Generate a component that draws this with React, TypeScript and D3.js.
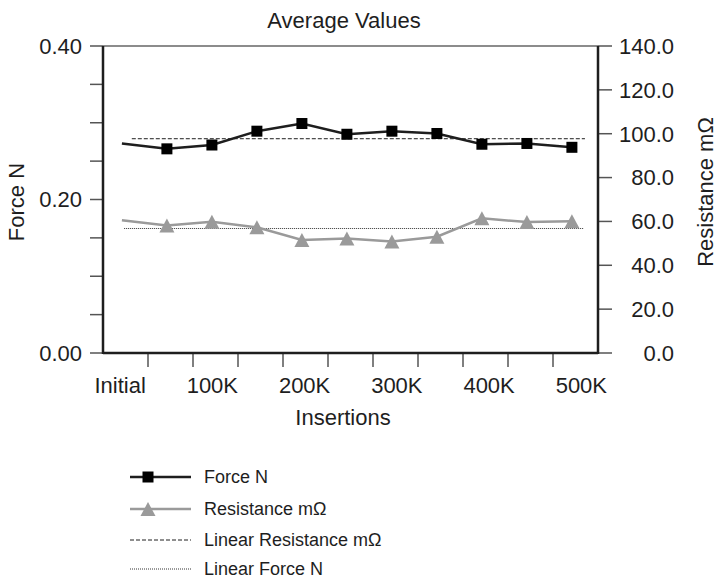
import React, { useEffect } from "react";
import * as d3 from "d3";

const categories = ["Initial", "50K", "100K", "150K", "200K", "250K", "300K", "350K", "400K", "450K", "500K"];
const tickLabels = ["Initial", "100K", "200K", "300K", "400K", "500K"];
const forceN = [0.273, 0.266, 0.271, 0.289, 0.299, 0.285, 0.289, 0.286, 0.272, 0.273, 0.268];
const resistanceMOhm = [60.5, 58.1, 59.9, 57.3, 51.5, 52.2, 50.9, 53.0, 61.4, 59.7, 60.1];
const leftTicks = [0, 0.05, 0.1, 0.15, 0.2, 0.25, 0.3, 0.35, 0.4];
const leftLabelTicks = [0, 0.2, 0.4];
const rightTicks = [0, 20, 40, 60, 80, 100, 120, 140];
const legendItems = ["Force N", "Resistance m\u03A9", "Linear Resistance m\u03A9", "Linear Force N"];

const W = 718;
const H = 580;
const L = 103, R = 598, T = 46, B = 353;
const FONT = "'Liberation Sans', Arial, Helvetica, sans-serif";
const DARK = "#1e1e1e";
const GRAY = "#9a9a9a";
const TICK = "#555";
const POINT_OFFSET = 0.42;

export default function App() {
  useEffect(() => {
    document.body.style.margin = "0";
  }, []);

  const x = d3.scaleLinear().domain([0, categories.length]).range([L, R]);
  const yL = d3.scaleLinear().domain([0, 0.4]).range([B, T]);
  const yR = d3.scaleLinear().domain([0, 140]).range([B, T]);
  const px = (i: number) => x(i + POINT_OFFSET);

  const forceLine = d3.line<number>().x((_, i) => px(i)).y((d) => yL(d));
  const resLine = d3.line<number>().x((_, i) => px(i)).y((d) => yR(d));

  const forceMean = d3.mean(forceN) as number;
  const resMean = d3.mean(resistanceMOhm) as number;

  const tri = (cx: number, cy: number, w = 15, h = 14) =>
    `M${cx},${cy - h / 2}L${cx + w / 2},${cy + h / 2}L${cx - w / 2},${cy + h / 2}Z`;
  const sq = 11;

  const legendY = [477, 509, 540, 569];
  const lgX0 = 130, lgX1 = 191, lgM = 148, lgText = 204;

  return (
    <svg width={W} height={H} style={{ display: "block", background: "#fff" }} fontFamily={FONT}>
      {/* title */}
      <text x={344} y={28} textAnchor="middle" fontSize={22} fill={DARK}>Average Values</text>

      {/* top border */}
      <line x1={L} x2={R} y1={T} y2={T} stroke="#666" strokeWidth={1.5} />

      {/* left ticks */}
      {leftTicks.map((t) => (
        <line key={"lt" + t} x1={L - 13} x2={L} y1={yL(t)} y2={yL(t)} stroke={TICK} strokeWidth={1.5} />
      ))}
      {leftLabelTicks.map((t) => (
        <text key={"ll" + t} x={82} y={yL(t)} dy="0.36em" textAnchor="end" fontSize={22} fill={DARK}>
          {d3.format(".2f")(t)}
        </text>
      ))}

      {/* right ticks */}
      {rightTicks.map((t) => (
        <g key={"rt" + t}>
          <line x1={R} x2={R + 14} y1={yR(t)} y2={yR(t)} stroke={TICK} strokeWidth={1.5} />
          <text x={674} y={yR(t)} dy="0.36em" textAnchor="end" fontSize={22} fill={DARK}>
            {d3.format(".1f")(t)}
          </text>
        </g>
      ))}

      {/* bottom ticks */}
      {d3.range(1, categories.length).map((k) => (
        <line key={"bt" + k} x1={x(k)} x2={x(k)} y1={B} y2={B + 14} stroke={TICK} strokeWidth={1.5} />
      ))}
      {tickLabels.map((lab, j) => (
        <text key={"bl" + lab} x={x(j * 2.05 + 0.38)} y={393} textAnchor="middle" fontSize={22} fill={DARK}>
          {lab}
        </text>
      ))}

      {/* axis lines */}
      <line x1={L} x2={L} y1={T} y2={B + 1} stroke={DARK} strokeWidth={2.5} />
      <line x1={R} x2={R} y1={T} y2={B + 1} stroke={DARK} strokeWidth={2.5} />
      <line x1={L} x2={R} y1={B} y2={B} stroke={DARK} strokeWidth={2.5} />

      {/* axis titles */}
      <text x={343} y={425} textAnchor="middle" fontSize={22} fill={DARK}>Insertions</text>
      <text transform={`translate(24,202) rotate(-90)`} textAnchor="middle" fontSize={22} fill={DARK}>Force N</text>
      <text transform={`translate(713,192) rotate(-90)`} textAnchor="middle" fontSize={22} fill={DARK}>Resistance m{"\u03A9"}</text>

      {/* trend lines */}
      <line x1={x(0.64)} x2={x(10.71)} y1={yL(forceMean)} y2={yL(forceMean)} stroke={DARK} strokeWidth={1} strokeDasharray="4,2" />
      <line x1={x(0.47)} x2={x(10.67)} y1={yR(resMean)} y2={yR(resMean)} stroke="#333" strokeWidth={1} strokeDasharray="1,1" />

      {/* resistance series */}
      <path d={resLine(resistanceMOhm) || ""} fill="none" stroke={GRAY} strokeWidth={2.5} />
      {resistanceMOhm.map((v, i) => (i === 0 ? null : <path key={"rm" + i} d={tri(px(i), yR(v))} fill={GRAY} />))}

      {/* force series */}
      <path d={forceLine(forceN) || ""} fill="none" stroke={DARK} strokeWidth={2.5} />
      {forceN.map((v, i) =>
        i === 0 ? null : (
          <rect key={"fm" + i} x={px(i) - sq / 2} y={yL(v) - sq / 2} width={sq} height={sq} fill="#000" />
        )
      )}

      {/* legend */}
      <g>
        <line x1={lgX0} x2={lgX1} y1={legendY[0]} y2={legendY[0]} stroke={DARK} strokeWidth={2.5} />
        <rect x={lgM - sq / 2} y={legendY[0] - sq / 2} width={sq} height={sq} fill="#000" />
        <line x1={lgX0} x2={lgX1} y1={legendY[1]} y2={legendY[1]} stroke={GRAY} strokeWidth={2.5} />
        <path d={tri(lgM, legendY[1])} fill={GRAY} />
        <line x1={lgX0} x2={lgX1} y1={legendY[2]} y2={legendY[2]} stroke={DARK} strokeWidth={1} strokeDasharray="4,2" />
        <line x1={lgX0} x2={lgX1} y1={legendY[3]} y2={legendY[3]} stroke="#333" strokeWidth={1} strokeDasharray="1,1" />
        {legendItems.map((t, i) => (
          <text key={"lg" + i} x={lgText} y={legendY[i]} dy="0.35em" fontSize={18} fill={DARK}>
            {t}
          </text>
        ))}
      </g>
    </svg>
  );
}
